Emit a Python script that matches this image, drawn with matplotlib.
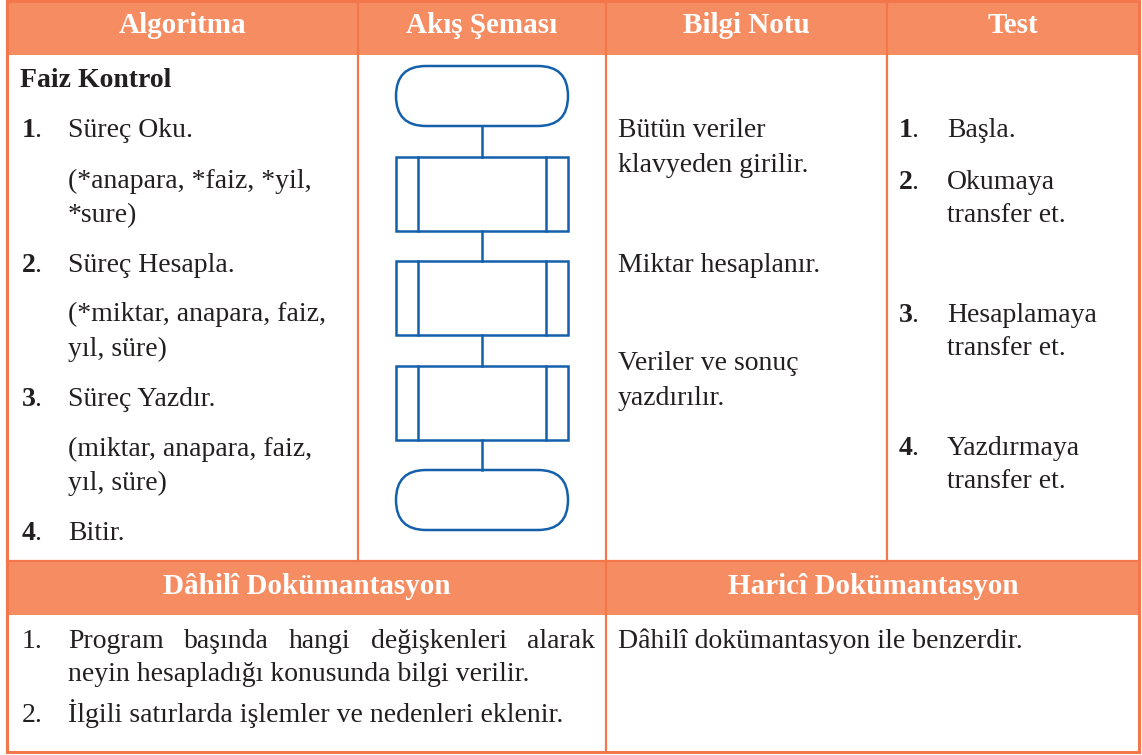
import matplotlib
matplotlib.use("Agg")
import matplotlib.pyplot as plt
from matplotlib import font_manager as fm
from matplotlib.patches import Rectangle, FancyBboxPatch

# texts
headers_top = ["Algoritma", "Akış Şeması", "Bilgi Notu", "Test"]
headers_bottom = ["Dâhilî Dokümantasyon", "Haricî Dokümantasyon"]

algo_title = "Faiz Kontrol"
algo_lines = [("1", "Süreç Oku."), (None, "(*anapara, *faiz, *yil,"), (None, "*sure)"),
              ("2", "Süreç Hesapla."), (None, "(*miktar, anapara, faiz,"), (None, "yıl, süre)"),
              ("3", "Süreç Yazdır."), (None, "(miktar, anapara, faiz,"), (None, "yıl, süre)"),
              ("4", "Bitir.")]
note_lines = ["Bütün veriler", "klavyeden girilir.", "Miktar hesaplanır.",
              "Veriler ve sonuç", "yazdırılır."]
test_lines = [("1", "Başla."), ("2", "Okumaya"), (None, "transfer et."),
              ("3", "Hesaplamaya"), (None, "transfer et."),
              ("4", "Yazdırmaya"), (None, "transfer et.")]
flow_nodes = ["terminal", "process", "process", "process", "terminal"]
internal_doc = [("1.", "Program başında hangi değişkenleri alarak"),
                (None, "neyin hesapladığı konusunda bilgi verilir."),
                ("2.", "İlgili satırlarda işlemler ve nedenleri eklenir.")]
external_doc = "Dâhilî dokümantasyon ile benzerdir."

# layout (pixels, text positions are baselines)
W, H = 1142, 755
col_x = [7, 358, 606, 887, 1139]
algo_y = [137, 188, 222, 272, 321, 356, 406, 456, 490, 540]
note_y = [137, 172, 272, 370, 405]
test_y = [137, 189, 222, 322, 355, 455, 488]
node_top = [66, 157, 261, 366, 470]
doc_y = [648, 681, 722]

HEAD = "#F68C62"
LINE = "#F3774A"
BLUE = "#1460AB"
INK = "#231F20"
FS = 20
HFS = 21


def pick_font(name, bold, size):
    for f in fm.fontManager.ttflist:
        w = f.weight if isinstance(f.weight, int) else (700 if f.weight == "bold" else 400)
        if f.name == name and f.style == "normal" and ((w >= 600) == bold):
            return fm.FontProperties(fname=f.fname, size=size)
    return fm.FontProperties(family="DejaVu Serif",
                             weight="bold" if bold else "normal", size=size)


REG = pick_font("Liberation Serif", False, FS)
BOLD_H = pick_font("Liberation Serif", True, HFS)
BOLD = pick_font("Liberation Serif", True, FS)

fig = plt.figure(figsize=(W / 100, H / 100), dpi=100)
ax = fig.add_axes([0, 0, 1, 1])
ax.set_xlim(0, W)
ax.set_ylim(H, 0)
ax.axis("off")

# header bands
ax.add_patch(Rectangle((col_x[0], 1), col_x[-1] - col_x[0], 54, color=HEAD, lw=0))
ax.add_patch(Rectangle((col_x[0], 561), col_x[-1] - col_x[0], 54, color=HEAD, lw=0))

# grid lines
for x in col_x[1:-1]:
    ax.plot([x, x], [1, 561], color=LINE, lw=1.6)
ax.plot([606, 606], [561, 752], color=LINE, lw=1.6)
ax.plot([7, 1139], [561, 561], color=LINE, lw=1.6)
ax.add_patch(Rectangle((col_x[0], 1), col_x[-1] - col_x[0], 751, fill=False,
                       edgecolor=LINE, lw=2.2))

# header labels
for i, h in enumerate(headers_top):
    ax.text((col_x[i] + col_x[i + 1]) / 2, 33, h, ha="center", va="baseline",
            color="white", fontproperties=BOLD_H)
ax.text(307, 594, headers_bottom[0], ha="center", va="baseline",
        color="white", fontproperties=BOLD_H)
ax.text(873, 594, headers_bottom[1], ha="center", va="baseline",
        color="white", fontproperties=BOLD_H)


def numbered(x_num, x_txt, y, num, txt):
    if num is not None:
        ax.text(x_num, y, num, ha="left", va="baseline", color=INK,
                fontproperties=BOLD)
        ax.text(x_num + 12, y, ".", ha="left", va="baseline", color=INK,
                fontproperties=REG)
    ax.text(x_txt, y, txt, ha="left", va="baseline", color=INK,
            fontproperties=REG)


# algorithm column
ax.text(20, 87, algo_title, ha="left", va="baseline", color=INK,
        fontproperties=BOLD)
for (num, txt), y in zip(algo_lines, algo_y):
    numbered(22, 68, y, num, txt)

# flowchart
fx0, fx1 = 396, 568
cx = (fx0 + fx1) / 2
heights = {"terminal": 60, "process": 74}
for i, (kind, top) in enumerate(zip(flow_nodes, node_top)):
    h = heights[kind]
    if kind == "terminal":
        ax.add_patch(FancyBboxPatch((fx0, top), fx1 - fx0, h,
                                    boxstyle="round,pad=0,rounding_size=30",
                                    fill=False, edgecolor=BLUE, lw=1.8))
    else:
        ax.add_patch(Rectangle((fx0, top), fx1 - fx0, h, fill=False,
                               edgecolor=BLUE, lw=1.8))
        for xi in (fx0 + 22, fx1 - 22):
            ax.plot([xi, xi], [top, top + h], color=BLUE, lw=1.8)
    if i + 1 < len(flow_nodes):
        ax.plot([cx, cx], [top + h, node_top[i + 1]], color=BLUE, lw=1.8)

# info column
for txt, y in zip(note_lines, note_y):
    ax.text(618, y, txt, ha="left", va="baseline", color=INK, fontproperties=REG)

# test column
for (num, txt), y in zip(test_lines, test_y):
    numbered(899, 947, y, num, txt)

# bottom: internal documentation, first line justified
fig.canvas.draw()
rend = fig.canvas.get_renderer()
for (num, txt), y in zip(internal_doc, doc_y):
    if num is not None:
        ax.text(22, y, num, ha="left", va="baseline", color=INK,
                fontproperties=REG)
    if y == doc_y[0]:
        words = txt.split()
        arts = [ax.text(0, y, w, ha="left", va="baseline", color=INK,
                        fontproperties=REG) for w in words]
        widths = [a.get_window_extent(rend).width for a in arts]
        gap = (595 - 68 - sum(widths)) / (len(words) - 1)
        x = 68
        for a, w in zip(arts, widths):
            a.set_x(x)
            x += w + gap
    else:
        ax.text(68, y, txt, ha="left", va="baseline", color=INK,
                fontproperties=REG)

ax.text(618, 648, external_doc, ha="left", va="baseline", color=INK,
        fontproperties=REG)

fig.savefig("out.png", dpi=100)
